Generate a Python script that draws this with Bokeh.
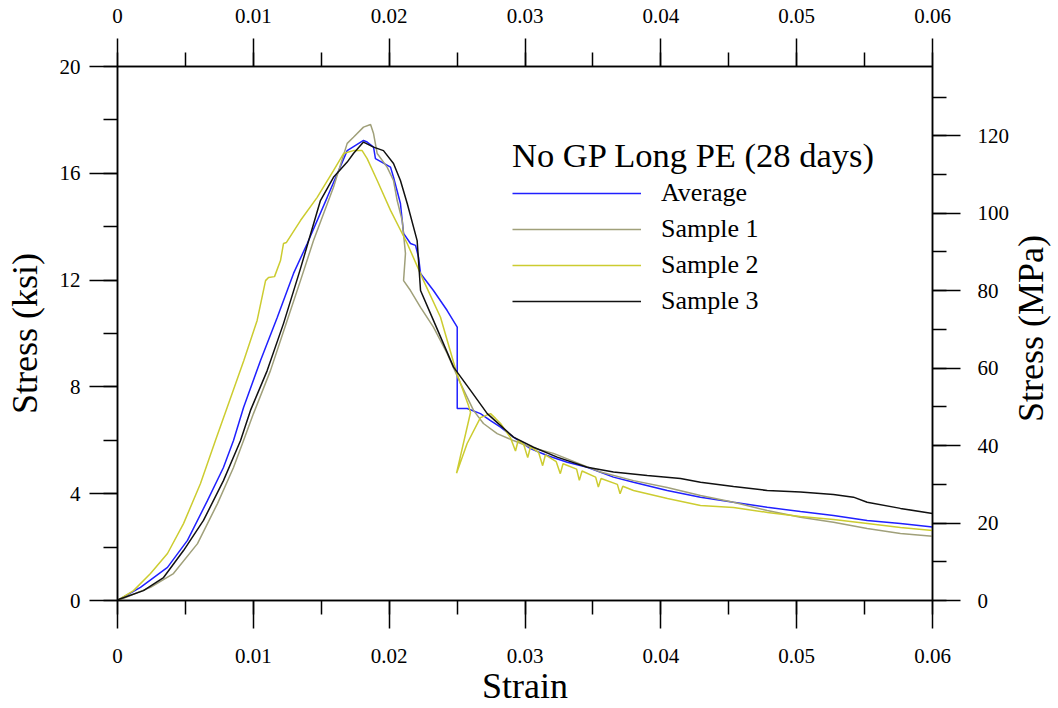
import math
from bokeh.plotting import figure
from bokeh.layouts import row
from bokeh.models import (LinearAxis, Range1d, SingleIntervalTicker,
                          CustomJSTickFormatter, Legend, LegendItem)
from bokeh.core.properties import value
from bokeh.embed import file_html
from bokeh.resources import INLINE

avg_strain = [0, 0.00169, 0.00368, 0.00515, 0.00663, 0.00780, 0.00854, 0.00928, 0.01053,
              0.01176, 0.01296, 0.01397, 0.01544, 0.01691, 0.01811, 0.01838, 0.01885,
              0.01899, 0.02010, 0.02032, 0.02083, 0.02106, 0.02157, 0.02194, 0.02216,
              0.02231, 0.02326, 0.02427, 0.02501, 0.02501, 0.02574, 0.02672, 0.02746,
              0.02820, 0.02915, 0.03040, 0.03163, 0.03311, 0.03458, 0.03651, 0.03799,
              0.04047, 0.04292, 0.04535, 0.04783, 0.05028, 0.05271, 0.05519, 0.05764, 0.06]
avg_stress = [0, 0.49, 1.24, 2.25, 3.75, 4.98, 5.99, 7.23, 8.99,
              10.60, 12.25, 13.37, 15.10, 16.85, 17.23, 17.17, 16.98,
              16.55, 16.23, 15.85, 14.87, 13.75, 13.37, 13.30, 12.86,
              12.25, 11.61, 10.86, 10.24, 7.19, 7.19, 7.00, 6.74,
              6.49, 6.12, 5.69, 5.43, 5.18, 4.99, 4.62, 4.43,
              4.12, 3.87, 3.68, 3.49, 3.33, 3.18, 3.00, 2.88, 2.75]

s1_strain = [0, 0.00022, 0.00243, 0.00412, 0.00589, 0.00736, 0.00854, 0.00928, 0.01001,
             0.01126, 0.01249, 0.01347, 0.01443, 0.01590, 0.01691, 0.01737, 0.01811,
             0.01863, 0.01885, 0.01912, 0.01985, 0.02032, 0.02059, 0.02096, 0.02120,
             0.02106, 0.02157, 0.02231, 0.02326, 0.02427, 0.02525, 0.02621, 0.02694,
             0.02795, 0.02915, 0.03040, 0.03210, 0.03556, 0.03799, 0.04047, 0.04292,
             0.04535, 0.04783, 0.05028, 0.05271, 0.05519, 0.05764, 0.06]
s1_stress = [0, 0.04, 0.49, 1.01, 2.13, 3.63, 4.98, 5.99, 7.00,
             8.61, 10.49, 11.98, 13.48, 15.48, 17.12, 17.35, 17.73,
             17.83, 17.49, 16.74, 16.23, 15.73, 14.98, 14.23, 13.00,
             11.98, 11.61, 10.98, 10.24, 9.25, 8.13, 7.12, 6.63,
             6.25, 5.99, 5.74, 5.51, 4.81, 4.49, 4.23, 3.93,
             3.68, 3.37, 3.12, 2.93, 2.70, 2.51, 2.41]

s2_strain = [0, 0.00118, 0.00243, 0.00368, 0.00486, 0.00611, 0.00721, 0.00808, 0.00930,
             0.01028, 0.01090, 0.01112, 0.01156, 0.01200, 0.01222, 0.01244, 0.01347,
             0.01470, 0.01590, 0.01664, 0.01737, 0.01801, 0.01838, 0.01912, 0.02010,
             0.02133, 0.02253, 0.02378, 0.02496, 0.02584, 0.02599, 0.02496, 0.02574,
             0.02672, 0.02746, 0.02783, 0.02820, 0.02893, 0.02930, 0.02950, 0.02990,
             0.03020, 0.03040, 0.03100, 0.03130, 0.03150, 0.03230, 0.03260, 0.03280,
             0.03380, 0.03400, 0.03420, 0.03520, 0.03540, 0.03560, 0.03680, 0.03700,
             0.03720, 0.03799, 0.04049, 0.04292, 0.04535, 0.04785, 0.05028, 0.05271,
             0.05521, 0.05764, 0.06]
s2_stress = [0, 0.37, 1.01, 1.76, 2.88, 4.38, 5.99, 7.24, 8.99,
             10.49, 11.98, 12.10, 12.13, 12.73, 13.37, 13.41, 14.23,
             15.10, 16.10, 16.74, 16.85, 16.85, 16.55, 15.73, 14.61,
             13.37, 11.98, 10.61, 8.54, 7.30, 7.04, 4.77, 5.88,
             6.85, 7.00, 6.82, 6.63, 6.10, 5.60, 6.00, 5.85,
             5.35, 5.75, 5.55, 5.05, 5.45, 5.20, 4.75, 5.12,
             4.92, 4.50, 4.85, 4.62, 4.25, 4.57, 4.35, 4.00,
             4.28, 4.12, 3.82, 3.56, 3.48, 3.30, 3.15, 3.03,
             2.88, 2.73, 2.62]

s3_strain = [0, 0.00007, 0.00191, 0.00339, 0.00486, 0.00633, 0.00780, 0.00906, 0.00979,
             0.01102, 0.01222, 0.01347, 0.01494, 0.01590, 0.01691, 0.01737, 0.01811,
             0.01885, 0.01958, 0.02032, 0.02083, 0.02133, 0.02206, 0.02231, 0.02326,
             0.02474, 0.02599, 0.02722, 0.02915, 0.03063, 0.03237, 0.03458, 0.03651,
             0.03900, 0.04145, 0.04292, 0.04535, 0.04783, 0.05028, 0.05271, 0.05418,
             0.05519, 0.05764, 0.06]
s3_stress = [0, 0.04, 0.37, 0.86, 1.87, 3.00, 4.49, 5.99, 7.12,
             8.61, 10.37, 12.43, 14.98, 15.85, 16.42, 16.74, 17.17,
             16.98, 16.85, 16.37, 15.73, 14.87, 13.48, 11.61, 10.49,
             8.74, 7.87, 7.00, 6.12, 5.74, 5.37, 4.99, 4.81,
             4.68, 4.57, 4.43, 4.27, 4.12, 4.06, 3.97, 3.87,
             3.68, 3.45, 3.26]

series_names = ["Average", "Sample 1", "Sample 2", "Sample 3"]
series_colors = ["#2020ff", "#a0a07a", "#cccc30", "#111111"]

x_ticks_interval = 0.01
ksi_ticks_interval = 4
mpa_ticks_interval = 20
KSI_TO_MPA = 6.894757
X_MAX = 0.06
Y_MAX = 20

FONT = "Liberation Serif"

p = figure(width=1012, height=708,
           x_range=Range1d(0, X_MAX), y_range=Range1d(0, Y_MAX),
           output_backend="svg", toolbar_location=None,
           x_axis_location=None, y_axis_location=None,
           min_border_left=117, min_border_right=80,
           min_border_top=66, min_border_bottom=108)
p.extra_y_ranges = {"mpa": Range1d(0, Y_MAX * KSI_TO_MPA)}
p.grid.visible = False
p.outline_line_color = "black"
p.outline_line_width = 1.5
p.background_fill_color = "white"
p.border_fill_color = "white"

fmt_code = "return tick.toFixed(2).replace(/\\.?0+$/, '');"


def style_axis(ax, standoff, label_standoff):
    ax.major_tick_in = 0
    ax.major_tick_out = 28
    ax.minor_tick_in = 0
    ax.minor_tick_out = 14
    ax.axis_line_color = "black"
    ax.axis_line_width = 1.5
    ax.major_tick_line_color = "black"
    ax.major_tick_line_width = 1.5
    ax.minor_tick_line_color = "black"
    ax.minor_tick_line_width = 1.5
    ax.major_label_text_font = FONT
    ax.major_label_text_font_size = "21px"
    ax.major_label_text_color = "black"
    ax.major_label_standoff = standoff
    ax.axis_label_text_font = FONT
    ax.axis_label_text_font_size = "36px"
    ax.axis_label_text_font_style = "normal"
    ax.axis_label_text_color = "black"
    ax.axis_label_standoff = label_standoff
    ax.formatter = CustomJSTickFormatter(code=fmt_code)


bottom = LinearAxis(axis_label="Strain",
                    ticker=SingleIntervalTicker(interval=x_ticks_interval, num_minor_ticks=2))
style_axis(bottom, 20, 0)
top = LinearAxis(ticker=SingleIntervalTicker(interval=x_ticks_interval, num_minor_ticks=2))
style_axis(top, 16, 0)
left = LinearAxis(axis_label="Stress (ksi)",
                  ticker=SingleIntervalTicker(interval=ksi_ticks_interval, num_minor_ticks=2))
style_axis(left, 9, 12)
right = LinearAxis(y_range_name="mpa",
                   ticker=SingleIntervalTicker(interval=mpa_ticks_interval, num_minor_ticks=2))
style_axis(right, 17, 0)

p.add_layout(bottom, "below")
p.add_layout(top, "above")
p.add_layout(left, "left")
p.add_layout(right, "right")

data = [(avg_strain, avg_stress), (s1_strain, s1_stress),
        (s2_strain, s2_stress), (s3_strain, s3_stress)]
renderers = []
for (xs, ys), c in zip(data, series_colors):
    renderers.append(p.line(xs, ys, line_color=c, line_width=1.5))

legend = Legend(
    items=[LegendItem(label=n, renderers=[r]) for n, r in zip(series_names, renderers)],
    title="No GP Long PE (28 days)",
    location=(395, 281),
    title_text_font=FONT, title_text_font_size="34.5px", title_text_font_style="normal",
    title_text_color="black", title_standoff=0,
    label_text_font=FONT, label_text_font_size="26px", label_text_color="black",
    glyph_width=129, glyph_height=36, label_height=36, label_standoff=20,
    spacing=0, padding=0, margin=0,
    border_line_color=None, background_fill_alpha=0,
)
p.add_layout(legend)

# narrow strip to the right carrying the MPa axis title (reads bottom-to-top)
p2 = figure(width=46, height=708, x_range=Range1d(0, 1), y_range=Range1d(0, Y_MAX),
            output_backend="svg", toolbar_location=None,
            x_axis_location=None, y_axis_location=None,
            min_border_left=0, min_border_right=0,
            min_border_top=66, min_border_bottom=108)
p2.grid.visible = False
p2.outline_line_color = None
p2.background_fill_color = "white"
p2.border_fill_color = "white"
p2.text(x=[0.5], y=[Y_MAX / 2], text=["Stress (MPa)"], angle=math.pi / 2,
        x_offset=-5, y_offset=-5,
        text_align="center", text_baseline="middle",
        text_font=value(FONT), text_font_size=value("36px"), text_color="black")

layout = row(p, p2, spacing=0)
open("out.html", "w").write(file_html(layout, INLINE))
